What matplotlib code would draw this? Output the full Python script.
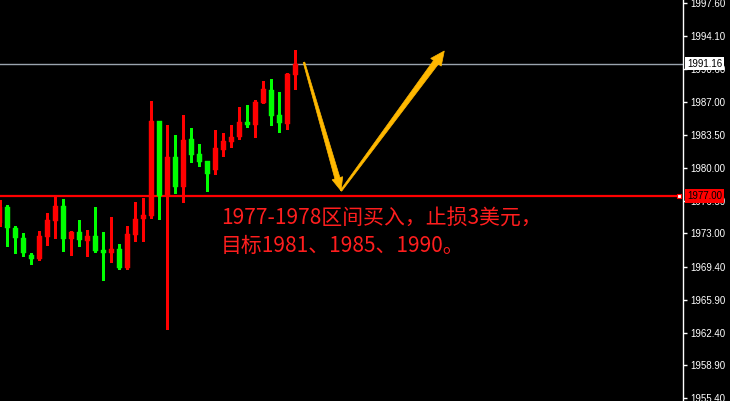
import matplotlib
matplotlib.use("Agg")
import matplotlib.pyplot as plt
import numpy as np
from matplotlib.patches import Polygon
from matplotlib.transforms import IdentityTransform, blended_transform_factory

# ---- data ----
opens  = [1974.14, 1975.82, 1973.61, 1972.54, 1970.72, 1970.29, 1972.64, 1974.36, 1975.93, 1972.43,
          1973.15, 1972.22, 1972.72, 1971.22, 1970.93, 1971.33, 1969.33, 1972.83, 1974.54, 1974.86,
          1985.01, 1977.00, 1981.17, 1977.96, 1983.09, 1981.49, 1980.74, 1979.78, 1981.91, 1982.77,
          1983.30, 1984.91, 1984.59, 1986.94, 1988.33, 1985.66, 1984.69, 1989.93]
highs  = [1976.57, 1976.03, 1973.79, 1973.04, 1970.90, 1973.25, 1975.18, 1976.92, 1976.67, 1973.25,
          1974.43, 1973.36, 1975.82, 1973.15, 1974.75, 1971.86, 1973.79, 1976.35, 1976.81, 1987.15,
          1985.01, 1984.59, 1983.52, 1985.66, 1984.27, 1982.55, 1980.74, 1984.05, 1983.73, 1984.59,
          1986.51, 1986.72, 1987.26, 1989.29, 1989.50, 1988.11, 1990.15, 1992.60]
lows   = [1973.79, 1971.65, 1970.93, 1970.58, 1969.76, 1970.19, 1971.76, 1972.54, 1971.15, 1970.69,
          1971.65, 1970.61, 1971.04, 1968.05, 1969.97, 1969.22, 1969.22, 1972.22, 1972.18, 1974.68,
          1974.54, 1962.78, 1977.32, 1976.35, 1980.63, 1980.20, 1977.53, 1979.35, 1981.27, 1982.23,
          1983.09, 1984.37, 1983.30, 1986.94, 1984.59, 1983.84, 1984.16, 1988.44]
closes = [1975.85, 1973.61, 1972.54, 1970.93, 1970.29, 1972.72, 1974.43, 1975.93, 1972.43, 1973.15,
          1972.32, 1972.72, 1971.15, 1970.93, 1971.33, 1969.33, 1972.93, 1974.54, 1974.96, 1985.01,
          1977.00, 1981.17, 1977.96, 1982.98, 1981.38, 1980.63, 1979.35, 1982.13, 1982.88, 1983.30,
          1984.91, 1984.59, 1987.05, 1988.44, 1985.55, 1984.80, 1990.04, 1991.16]

price_ticks = [1997.60, 1994.10, 1990.60, 1987.00, 1983.50, 1980.00, 1976.50,
               1973.00, 1969.40, 1965.90, 1962.40, 1958.90, 1955.40]
current_price = 1991.16
level_price = 1977.00

# arrow annotations (bar index, price)
arrow1 = [(38.06, 1991.29), (42.69, 1977.56)]
arrow2 = [(42.69, 1977.56), (55.6, 1992.50)]

note_lines = ["1977-1978区间买入，止损3美元，", "目标1981、1985、1990。"]

# ---- figure ----
W, H = 730, 401
fig = plt.figure(figsize=(W / 100, H / 100), dpi=100, facecolor="black")
ax = fig.add_axes([0, 0, 683 / W, 1])
ax.set_facecolor("black")
ax.set_xlim(0.0625, 85.44)
ax.set_ylim(1955.08, 1997.95)

idx = np.arange(len(opens))
o = np.array(opens); c = np.array(closes)
cols = np.where(c >= o, "#FF0000", "#00FF00")

ax.vlines(idx, lows, highs, colors=cols, linewidth=1, antialiased=False, zorder=3)
ax.bar(idx, np.abs(c - o), bottom=np.minimum(o, c), width=0.64, color=cols,
       edgecolor=cols, linewidth=0.3, zorder=4)

# horizontal lines
ax.axhline(current_price, color="#9aa4ae", linewidth=1, zorder=2)
ax.axhline(level_price, xmax=679 / 683, color="#FF0000", linewidth=1.6, zorder=2)
ax.plot([ax.get_xlim()[1] - 0.5], [level_price], marker="s", markersize=3.5,
        markerfacecolor="white", markeredgecolor="#FF0000", markeredgewidth=0.8,
        clip_on=False, zorder=6)

# tapered arrows
def tapered_arrow(p0, p1, w0, w1, hw, hl, color):
    P0 = ax.transData.transform(p0)
    P1 = ax.transData.transform(p1)
    d = P1 - P0
    L = np.hypot(*d)
    d = d / L
    n = np.array([-d[1], d[0]])
    B = P1 - d * hl
    pts = [P0 + n * w0, B + n * w1, B + n * hw, P1, B - n * hw, B - n * w1, P0 - n * w0]
    poly = Polygon(pts, closed=True, transform=IdentityTransform(), facecolor=color,
                   edgecolor=color, linewidth=0.5, zorder=7)
    fig.add_artist(poly)

tapered_arrow(arrow1[0], arrow1[1], 0.8, 2.6, 5.5, 13, "#FFB800")
tapered_arrow(arrow2[0], arrow2[1], 0.8, 3.0, 6.5, 14, "#FFB800")

# note text
cjk = ["Noto Sans CJK SC", "DejaVu Sans"]
ax.text(27.7, 1974.55, note_lines[0], color="#FF1E1E", fontsize=15, family=cjk,
        ha="left", va="center", zorder=8)
ax.text(27.7, 1971.65, note_lines[1], color="#FF1E1E", fontsize=15, family=cjk,
        ha="left", va="center", zorder=8)

# right price axis
for s in ["left", "top", "bottom"]:
    ax.spines[s].set_visible(False)
ax.spines["right"].set_color("white")
ax.spines["right"].set_linewidth(1)
ax.set_xticks([])
ax.yaxis.tick_right()
ax.set_yticks(price_ticks)
ax.set_yticklabels([f"{p:.2f}" for p in price_ticks], family="Liberation Sans", fontsize=7)
ax.tick_params(axis="y", colors="white", length=3, width=1, pad=2, direction="out")

trans = blended_transform_factory(ax.transAxes, ax.transData)
ax.text(687 / 683, current_price, f"{current_price:.2f}", transform=trans, color="black",
        family="Liberation Sans", fontsize=7, ha="left", va="center", clip_on=False,
        bbox=dict(boxstyle="square,pad=0.2", fc="white", ec="none"), zorder=9)
ax.text(687 / 683, level_price, f"{level_price:.2f}", transform=trans, color="black",
        family="Liberation Sans", fontsize=7, ha="left", va="center", clip_on=False,
        bbox=dict(boxstyle="square,pad=0.2", fc="#FF0000", ec="none"), zorder=9)

fig.savefig("out.png", dpi=100, facecolor="black")
